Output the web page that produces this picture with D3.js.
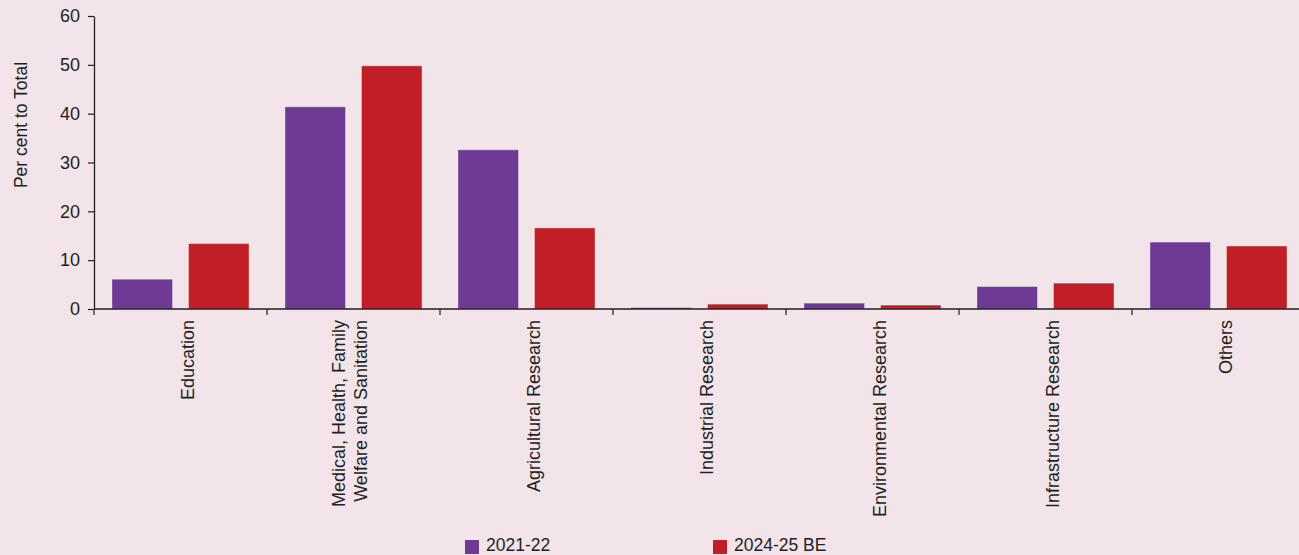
<!DOCTYPE html>
<html>
<head>
<meta charset="utf-8">
<script src="https://cdn.jsdelivr.net/npm/d3@7"></script>
<style>
  html, body { margin: 0; padding: 0; background: #f2e4e9; }
  svg { display: block; font-family: "Liberation Sans", Arial, Helvetica, sans-serif; }
</style>
</head>
<body>
<svg id="chart" width="1299" height="555"></svg>
<script>
const categories = [
  ["Education"],
  ["Medical, Health, Family", "Welfare and Sanitation"],
  ["Agricultural Research"],
  ["Industrial Research"],
  ["Environmental Research"],
  ["Infrastructure Research"],
  ["Others"]
];
const seriesNames = ["2021-22", "2024-25 BE"];
const values2021 = [6.1, 41.4, 32.6, 0.3, 1.2, 4.6, 13.7];
const values2024 = [13.4, 49.8, 16.6, 1.0, 0.8, 5.3, 12.9];
const yTicks = [0, 10, 20, 30, 40, 50, 60];
const colors = ["#6f3996", "#c11f25"];
const yTitle = "Per cent to Total";

const svg = d3.select("#chart");
const W = 1299, H = 555;
const ink = "#231f20";
svg.append("rect").attr("width", W).attr("height", H).attr("fill", "#f2e4e9");

const keys = categories.map(c => c.join(" "));
const x = d3.scaleBand().domain(keys).range([94, 94 + 173 * 7]).paddingInner(0).paddingOuter(0);
const xs = d3.scaleBand().domain(seriesNames).range([0, x.bandwidth()]).paddingInner(0.209).paddingOuter(0.235);
const y = d3.scaleLinear().domain([0, 60]).range([309, 16]);

const data = keys.map((k, i) => ({ key: k, vals: [values2021[i], values2024[i]] }));

// bars
const g = svg.append("g");
data.forEach(d => {
  d.vals.forEach((v, j) => {
    g.append("rect")
      .attr("x", x(d.key) + xs(seriesNames[j]))
      .attr("width", xs.bandwidth())
      .attr("y", y(v))
      .attr("height", y(0) - y(v))
      .attr("fill", colors[j])
      .attr("stroke", "rgba(255,255,255,0.35)")
      .attr("stroke-width", 1);
  });
});

// y axis
const yAxis = d3.axisLeft(y).tickValues(yTicks).tickSize(6).tickSizeOuter(0).tickPadding(8);
const ya = svg.append("g").attr("transform", "translate(94,0)").call(yAxis);
ya.select(".domain").attr("stroke", ink).attr("stroke-width", 1.3);
ya.selectAll(".tick line").attr("stroke", ink).attr("stroke-width", 1.2);
ya.selectAll(".tick text").attr("fill", ink).attr("font-size", 18).attr("font-family", "Liberation Sans, Arial, sans-serif");

// x axis line and ticks at band boundaries
const xa = svg.append("g");
xa.append("line").attr("x1", 94).attr("x2", W).attr("y1", y(0)).attr("y2", y(0))
  .attr("stroke", ink).attr("stroke-width", 1.5);
const boundaries = keys.map(k => x(k)).concat([x(keys[keys.length - 1]) + x.bandwidth()]);
boundaries.forEach(bx => {
  xa.append("line").attr("x1", bx).attr("x2", bx).attr("y1", y(0)).attr("y2", y(0) + 6)
    .attr("stroke", ink).attr("stroke-width", 1.2);
});

// x labels (rotated)
categories.forEach((lines, i) => {
  const cx = x(keys[i]) + x.bandwidth() / 2 + 13.5;
  const t = svg.append("text")
    .attr("transform", `translate(${cx},320) rotate(-90)`)
    .attr("text-anchor", "end")
    .attr("font-size", 18)
    .attr("fill", ink);
  lines.forEach((ln, li) => {
    t.append("tspan").attr("x", 0).attr("y", -(lines.length - 1 - li) * 22).text(ln);
  });
});

// y title
svg.append("text")
  .attr("transform", "translate(27,125) rotate(-90)")
  .attr("text-anchor", "middle")
  .attr("font-size", 17.5)
  .attr("fill", ink)
  .text(yTitle);

// legend
const legendX = [465, 713];
seriesNames.forEach((s, j) => {
  svg.append("rect").attr("x", legendX[j]).attr("y", 540).attr("width", 14).attr("height", 14).attr("fill", colors[j]);
  svg.append("text").attr("x", legendX[j] + 21).attr("y", 551).attr("font-size", 17.5).attr("fill", ink).text(s);
});
</script>
</body>
</html>
